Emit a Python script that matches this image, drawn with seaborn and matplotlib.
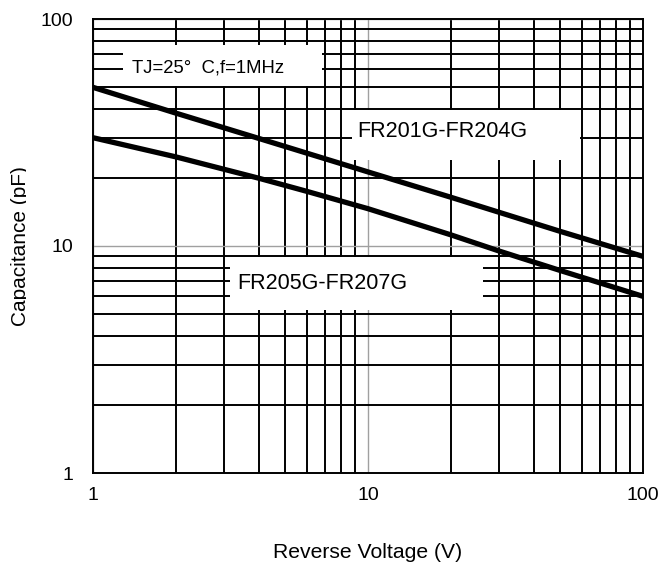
import numpy as np
import pandas as pd
import seaborn as sns
import matplotlib
matplotlib.use("Agg")
import matplotlib.pyplot as plt
from matplotlib.patches import Rectangle
from matplotlib.ticker import FixedLocator, FixedFormatter, NullFormatter
from matplotlib.transforms import Bbox, TransformedBbox

# values
volts_upper = [1, 2, 4, 10, 20, 50, 100]
cap_upper = [50, 38.5, 29.8, 21.2, 16.4, 11.6, 9.0]

volts_lower = [1, 2, 4, 6, 10, 20, 30, 50, 100]
cap_lower = [30, 24.7, 19.9, 17.4, 14.6, 11.2, 9.5, 7.8, 6.0]

series_names = ["FR201G-FR204G", "FR205G-FR207G"]
tick_values = [1, 10, 100]
tick_labels = ["1", "10", "100"]

df = pd.concat([
    pd.DataFrame({"V": volts_upper, "C": cap_upper, "part": series_names[0]}),
    pd.DataFrame({"V": volts_lower, "C": cap_lower, "part": series_names[1]}),
])

sns.set_style("white")
plt.rcParams["font.family"] = ["Liberation Sans", "DejaVu Sans"]
plt.rcParams["text.color"] = "black"
plt.rcParams["axes.labelcolor"] = "black"

fig = plt.figure(figsize=(6.62, 5.69), dpi=100)
ax = fig.add_axes([93 / 662, 96 / 569, 550 / 662, 454 / 569])

ax.set_xscale("log")
ax.set_yscale("log")
ax.set_xlim(1, 100)
ax.set_ylim(1, 100)

# grid: black minor lines, grey decade lines
ax.set_axisbelow(True)
ax.grid(which="minor", color="black", lw=1.4)
ax.grid(which="major", color="#a0a0a0", lw=1.0)

sns.lineplot(data=df, x="V", y="C", hue="part", palette=["black", "black"],
             lw=3.8, legend=False, ax=ax, zorder=4)

# white boxes with labels (axes fraction)
boxes = [
    (0.0545, 0.852, 0.3615, 0.091),
    (0.471, 0.689, 0.414, 0.111),
    (0.249, 0.359, 0.460, 0.117),
]
for x0, y0, w, h in boxes:
    ax.add_patch(Rectangle((x0, y0), w, h, transform=ax.transAxes,
                           facecolor="white", edgecolor="none", zorder=2))

ax.text(0.0709, 0.883, "TJ=25°  C,f=1MHz", transform=ax.transAxes,
        fontsize=13.3, va="baseline", ha="left", zorder=3)
ax.text(0.480, 0.740, series_names[0], transform=ax.transAxes,
        fontsize=15.5, va="baseline", ha="left", zorder=3)
ax.text(0.262, 0.405, series_names[1], transform=ax.transAxes,
        fontsize=15.5, va="baseline", ha="left", zorder=3)

ax.xaxis.set_major_locator(FixedLocator(tick_values))
ax.xaxis.set_major_formatter(FixedFormatter(tick_labels))
ax.yaxis.set_major_locator(FixedLocator(tick_values))
ax.yaxis.set_major_formatter(FixedFormatter(tick_labels))
ax.xaxis.set_minor_formatter(NullFormatter())
ax.yaxis.set_minor_formatter(NullFormatter())
ax.tick_params(axis="both", which="both", length=0, labelsize=14, colors="black")
ax.tick_params(axis="x", pad=10)
ax.tick_params(axis="y", pad=14)

for s in ax.spines.values():
    s.set_color("black")
    s.set_linewidth(1.4)
    s.set_zorder(5)

ax.set_xlabel("Reverse Voltage (V)", fontsize=15.2)
ax.xaxis.set_label_coords(0.5, -0.155)
ax.set_ylabel("Capacitance (pF)", fontsize=15)
ax.yaxis.set_label_coords(-0.1147, 0.5)

# the reference cuts the y label off near its baseline
ylab = ax.yaxis.label
ylab.set_clip_box(TransformedBbox(Bbox.from_extents(0, 0, 25.5 / 662, 1), fig.transFigure))
ylab.set_clip_on(True)

fig.savefig("out.png", dpi=100)
